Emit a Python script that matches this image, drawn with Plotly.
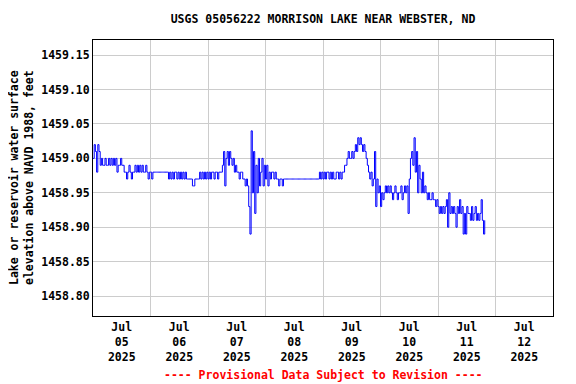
import pandas as pd
import plotly.graph_objects as go

# Half-hourly gage height readings (feet, NAVD 1988), one list per day
jul05 = [1459.00, 1459.02, 1459.01, 1458.98, 1459.02, 1459.01, 1458.99, 1459.00, 1458.99, 1458.99,
         1459.00, 1458.99, 1458.99, 1459.00, 1458.99, 1459.00, 1458.99, 1459.00, 1458.99, 1459.00,
         1458.98, 1458.99, 1458.99, 1459.00, 1458.99, 1458.99, 1458.98, 1458.98, 1458.97, 1458.98,
         1458.99, 1458.98, 1458.97, 1458.98, 1458.98, 1458.99, 1458.98, 1458.99, 1458.98, 1458.99,
         1458.98, 1458.99, 1458.98, 1458.98, 1458.99, 1458.98, 1458.97, 1458.98]
jul06 = [1458.98, 1458.97, 1458.98, 1458.98, 1458.98, 1458.98, 1458.98, 1458.98, 1458.98, 1458.98,
         1458.98, 1458.98, 1458.98, 1458.98, 1458.98, 1458.97, 1458.98, 1458.97, 1458.98, 1458.97,
         1458.98, 1458.98, 1458.97, 1458.98, 1458.97, 1458.98, 1458.97, 1458.98, 1458.97, 1458.98,
         1458.97, 1458.97, 1458.97, 1458.97, 1458.97, 1458.96, 1458.96, 1458.97, 1458.97, 1458.97,
         1458.97, 1458.98, 1458.97, 1458.98, 1458.97, 1458.98, 1458.97, 1458.98]
jul07 = [1458.97, 1458.98, 1458.97, 1458.98, 1458.98, 1458.97, 1458.98, 1458.98, 1458.97, 1458.98,
         1458.98, 1458.98, 1458.99, 1459.01, 1458.96, 1459.00, 1459.01, 1458.99, 1459.01, 1459.00,
         1458.99, 1459.00, 1458.98, 1458.99, 1458.98, 1458.98, 1458.97, 1458.98, 1458.98, 1458.97,
         1458.97, 1458.96, 1458.97, 1458.96, 1458.93, 1458.89, 1459.04, 1458.95, 1459.01, 1458.92,
         1458.99, 1458.95, 1459.00, 1458.96, 1458.98, 1459.00, 1458.96, 1458.99]
jul08 = [1458.97, 1458.99, 1458.96, 1458.98, 1458.97, 1458.98, 1458.98, 1458.97, 1458.98, 1458.97,
         1458.97, 1458.96, 1458.97, 1458.97, 1458.96, 1458.97, 1458.97, 1458.97, 1458.97, 1458.97,
         1458.97, 1458.97, 1458.97, 1458.97, 1458.97, 1458.97, 1458.97, 1458.97, 1458.97, 1458.97,
         1458.97, 1458.97, 1458.97, 1458.97, 1458.97, 1458.97, 1458.97, 1458.97, 1458.97, 1458.97,
         1458.97, 1458.97, 1458.97, 1458.97, 1458.97, 1458.98, 1458.97, 1458.98]
jul09 = [1458.97, 1458.98, 1458.97, 1458.98, 1458.98, 1458.97, 1458.98, 1458.97, 1458.98, 1458.97,
         1458.97, 1458.98, 1458.98, 1458.97, 1458.98, 1458.97, 1458.98, 1458.98, 1458.99, 1458.99,
         1459.00, 1459.01, 1459.00, 1459.00, 1459.01, 1459.00, 1459.01, 1459.02, 1459.01, 1459.03,
         1459.02, 1459.03, 1459.02, 1459.01, 1459.02, 1459.01, 1459.00, 1458.99, 1458.98, 1458.97,
         1458.98, 1458.96, 1458.97, 1459.01, 1458.93, 1458.97, 1458.95, 1458.96]
jul10 = [1458.93, 1458.95, 1458.94, 1458.95, 1458.96, 1458.95, 1458.96, 1458.95, 1458.96, 1458.95,
         1458.94, 1458.95, 1458.96, 1458.95, 1458.94, 1458.95, 1458.95, 1458.96, 1458.94, 1458.95,
         1458.96, 1458.95, 1458.96, 1458.92, 1458.97, 1459.00, 1459.01, 1458.99, 1459.03, 1458.98,
         1459.01, 1458.95, 1458.99, 1458.97, 1458.95, 1458.98, 1458.95, 1458.96, 1458.95, 1458.94,
         1458.95, 1458.94, 1458.94, 1458.95, 1458.94, 1458.94, 1458.93, 1458.94]
jul11 = [1458.93, 1458.92, 1458.93, 1458.92, 1458.93, 1458.92, 1458.93, 1458.94, 1458.90, 1458.95,
         1458.92, 1458.93, 1458.92, 1458.93, 1458.92, 1458.90, 1458.93, 1458.92, 1458.94, 1458.92,
         1458.93, 1458.89, 1458.92, 1458.89, 1458.93, 1458.92, 1458.92, 1458.91, 1458.93, 1458.91,
         1458.92, 1458.93, 1458.91, 1458.92, 1458.91, 1458.92, 1458.94, 1458.91, 1458.89, 1458.91]

values = jul05 + jul06 + jul07 + jul08 + jul09 + jul10 + jul11
times = pd.date_range("2025-07-05 00:00", periods=len(values), freq="30min")

y_ticks = [1458.80, 1458.85, 1458.90, 1458.95, 1459.00, 1459.05, 1459.10, 1459.15]

FONT = "DejaVu Sans Mono"
FS = 11.5

fig = go.Figure()
fig.add_trace(go.Scatter(x=times, y=values, mode="lines",
                         line=dict(color="#0000FF", width=1, shape="hv"),
                         showlegend=False))

fig.update_layout(
    width=568, height=376,
    margin=dict(l=85, r=23, t=32, b=68),
    paper_bgcolor="white", plot_bgcolor="white",
    font=dict(family=FONT, size=FS, color="black"),
    title=dict(text="<b>USGS 05056222 MORRISON LAKE NEAR WEBSTER, ND</b>",
               x=0.5, xref="paper", xanchor="center",
               y=1 - 11 / 376, yref="container", yanchor="middle",
               font=dict(family=FONT, size=FS, color="black")),
    xaxis=dict(type="date", range=["2025-07-05", "2025-07-13"],
               tick0="2025-07-05", dtick=86400000, ticklabelmode="period",
               tickformat="<b>%b</b><br><b>%d</b><br><b>%Y</b>",
               showgrid=True, gridcolor="#cccccc", gridwidth=1,
               showline=True, linecolor="black", linewidth=1, mirror=True,
               ticks="", zeroline=False,
               tickfont=dict(family=FONT, size=FS, color="black")),
    yaxis=dict(range=[1458.771, 1459.172], tickvals=y_ticks,
               ticktext=[f"<b>{v:.2f}</b>" for v in y_ticks],
               showgrid=True, gridcolor="#cccccc", gridwidth=1,
               showline=True, linecolor="black", linewidth=1, mirror=True,
               ticks="", zeroline=False,
               tickfont=dict(family=FONT, size=FS, color="black")),
)

fig.add_annotation(text="<b>Lake or reservoir water surface</b><br><b>elevation above NAVD 1988, feet</b>",
                   xref="paper", yref="paper", x=(13 - 85) / 460, y=0.5,
                   xanchor="center", yanchor="middle", textangle=-90, showarrow=False,
                   font=dict(family=FONT, size=FS, color="black"))
fig.add_annotation(text="<b>---- Provisional Data Subject to Revision ----</b>",
                   xref="paper", yref="paper", x=0.5, y=(308 - 367) / 276,
                   xanchor="center", yanchor="middle", showarrow=False,
                   font=dict(family=FONT, size=FS, color="red"))

fig.write_html("out.html")
